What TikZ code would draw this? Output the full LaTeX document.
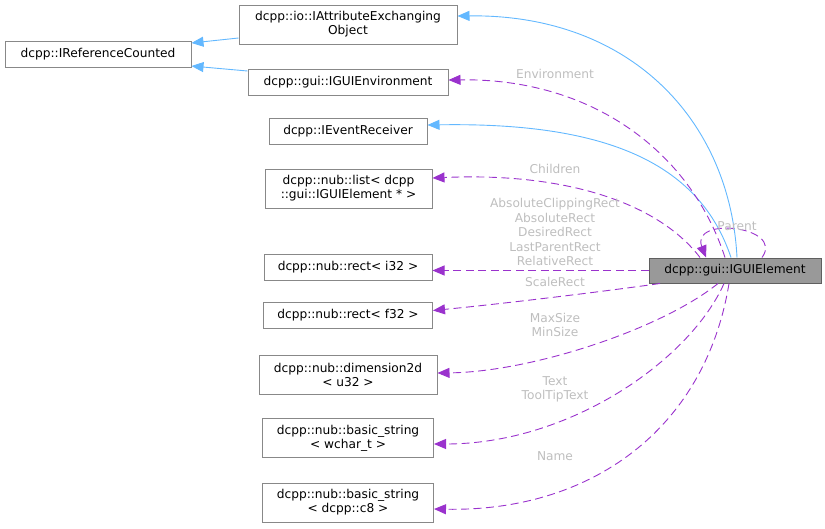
\documentclass[tikz,border=0pt]{standalone}
\usepackage{fontspec}
\setmainfont{DejaVu Sans}
\usetikzlibrary{arrows.meta}
\definecolor{inhblue}{HTML}{63B8FF}
\definecolor{usepurple}{HTML}{9A32CD}
\definecolor{lblgray}{HTML}{BEBEBE}
\definecolor{boxline}{HTML}{888888}
\definecolor{mainfill}{HTML}{999999}

\begin{document}
\begin{tikzpicture}[x=1pt,y=-1pt,
    cls/.style={draw=boxline, fill=white, line width=1pt, inner sep=0pt,
        align=center, font=\fontsize{12.2}{14}\selectfont, minimum height=26pt},
    clstwo/.style={cls, minimum height=39pt},
    mainbox/.style={cls, fill=mainfill, draw=boxline!70!black, minimum height=25pt},
    inherit/.style={draw=inhblue, line width=0.9pt, -{Triangle[length=12pt,width=10pt]}},
    member/.style={draw=usepurple, line width=0.9pt, dash pattern=on 8pt off 4.5pt,
        -{Triangle[length=12pt,width=10pt]}},
    memlabel/.style={text=lblgray, align=center, inner sep=0pt,
        font=\fontsize{12.2}{14.5}\selectfont}]
    \useasboundingbox (0,0) rectangle (825,528);

    % the classes
    \node[cls, minimum width=186pt] (refcount) at (98,54) {dcpp::IReferenceCounted};
    \node[clstwo, minimum width=218pt] (attrobj) at (348,24.5) {dcpp::io::IAttributeExchanging\\Object};
    \node[cls, minimum width=200pt] (guienv) at (348,82) {dcpp::gui::IGUIEnvironment};
    \node[cls, minimum width=158pt] (evrecv) at (348,131) {dcpp::IEventReceiver};
    \node[clstwo, minimum width=167pt] (elemlist) at (348.5,188.5) {dcpp::nub::list< dcpp\\::gui::IGUIElement * >};
    \node[cls, minimum width=168pt] (recti) at (348,267) {dcpp::nub::rect< i32 >};
    \node[cls, minimum width=169pt] (rectf) at (348,315.5) {dcpp::nub::rect< f32 >};
    \node[clstwo, minimum width=178pt] (dimen) at (348,374.5) {dcpp::nub::dimension2d\\< u32 >};
    \node[clstwo, minimum width=171pt] (wstr) at (348,438) {dcpp::nub::basic\_string\\< wchar\_t >};
    \node[clstwo, minimum width=171pt] (cstr) at (348,502.5) {dcpp::nub::basic\_string\\< dcpp::c8 >};
    \node[mainbox, minimum width=172pt] (guielem) at (735,270.5) {dcpp::gui::IGUIElement};

    % inheritance
    \draw[inherit] ([yshift=-13.5pt]attrobj.west) -- ([yshift=11pt]refcount.east);
    \draw[inherit] ([yshift=11pt]guienv.west) -- ([yshift=-12pt]refcount.east);
    \draw[inherit] ([xshift=2pt]guielem.north) .. controls (730,120) and (630,14) .. ([yshift=8.5pt]attrobj.east);
    \draw[inherit] ([xshift=-4pt]guielem.north) .. controls (700,165) and (610,122) .. ([yshift=6pt]evrecv.east);

    % members
    \draw[member] ([xshift=-10pt]guielem.north) .. controls (690,150) and (590,78) .. ([yshift=2pt]guienv.east);
    \draw[member] ([xshift=-35pt]guielem.north) .. controls (660,205) and (570,172) .. ([yshift=10.5pt]elemlist.east);
    \draw[member] (guielem.west) -- (recti.east |- guielem.west);
    \draw[member] ([xshift=-75pt]guielem.south) .. controls (600,292) and (500,304) .. ([yshift=5pt]rectf.east);
    \draw[member] ([xshift=-17pt]guielem.south) .. controls (660,330) and (530,372) .. ([yshift=1.5pt]dimen.east);
    \draw[member] ([xshift=-11pt]guielem.south) .. controls (690,360) and (570,444) .. ([yshift=-6pt]wstr.east);
    \draw[member] ([xshift=-6pt]guielem.south) .. controls (705,430) and (590,512) .. ([yshift=-6.5pt]cstr.east);
    \draw[member] ([xshift=27pt]guielem.north) .. controls (785,226) and (690,216) .. ([xshift=-29pt]guielem.north);

    % the member names
    \node[memlabel] (lenv) at (555,74) {Environment};
    \node[memlabel] (lchild) at (555,169) {Children};
    \node[memlabel] (lrect) at (555,232) {AbsoluteClippingRect\\AbsoluteRect\\DesiredRect\\LastParentRect\\RelativeRect};
    \node[memlabel] (lscale) at (555,282) {ScaleRect};
    \node[memlabel] (lsize) at (555,325) {MaxSize\\MinSize};
    \node[memlabel] (ltext) at (555,389.5) {Text\\ToolTipText};
    \node[memlabel] (lname) at (555,456) {Name};
    \node[memlabel] (lparent) at (737,226) {Parent};
\end{tikzpicture}
\end{document}
